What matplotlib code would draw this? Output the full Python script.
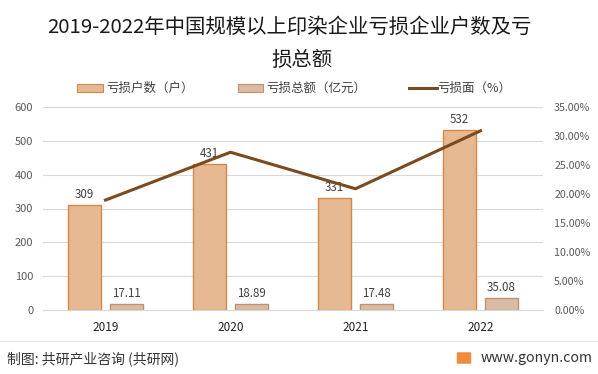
import matplotlib.pyplot as plt
import numpy as np
from matplotlib.patches import Rectangle, FancyBboxPatch
from matplotlib.lines import Line2D

plt.rcParams['font.family'] = ['Noto Sans CJK SC', 'DejaVu Sans']

years = ['2019', '2020', '2021', '2022']
loss_count = [309, 431, 331, 532]
loss_amount = [17.11, 18.89, 17.48, 35.08]
loss_ratio = [18.95, 27.2, 20.9, 30.9]

count_color = '#E6B993'
count_edge = '#D4894A'
amount_color = '#D9BCA6'
amount_edge = '#C4906C'
line_color = '#7B4A1F'
tick_color = '#595959'

fig = plt.figure(figsize=(5.98, 3.74), dpi=100)
ax = fig.add_axes([43 / 598, 64 / 374, 500 / 598, 203 / 374])
ax2 = ax.twinx()

x = np.arange(len(years))
w = 0.265
off = 0.168
ax.bar(x - off, loss_count, w, color=count_color, edgecolor=count_edge, linewidth=1, zorder=2)
ax.bar(x + off, loss_amount, w, color=amount_color, edgecolor=amount_edge, linewidth=1, zorder=2)

for xi, v in zip(x, loss_count):
    ax.text(xi - off, v + 12, str(v), ha='center', va='bottom', fontsize=8.3, color='#404040', zorder=1)
for xi, v in zip(x, loss_amount):
    ax.text(xi + off, v + 12, '%.2f' % v, ha='center', va='bottom', fontsize=8.3, color='#404040', zorder=1)

ax2.plot(x, loss_ratio, color=line_color, linewidth=2.2, zorder=3)

ax.set_xlim(-0.5, 3.5)
ax.set_ylim(0, 600)
ax.set_yticks(range(0, 601, 100))
ax2.set_ylim(0, 35)
ax2.set_yticks(np.arange(0, 36, 5))
ax2.set_yticklabels(['%.2f%%' % t for t in np.arange(0, 36, 5)])

ax.set_xticks(x)
ax.set_xticklabels(years, fontsize=8.5, color='#202020')
ax.tick_params(axis='x', length=0, pad=8)
ax.tick_params(axis='y', length=0, labelsize=8, labelcolor=tick_color, pad=7)
ax2.tick_params(axis='y', length=0, labelsize=7.7, labelcolor=tick_color, pad=8)

ax.grid(axis='y', color='#D9D9D9', linewidth=0.8, zorder=0)
ax.set_axisbelow(True)
for a in (ax, ax2):
    for s in a.spines.values():
        s.set_visible(False)
ax.spines['bottom'].set_visible(True)
ax.spines['bottom'].set_color('#D9D9D9')
ax.patch.set_visible(False)
ax2.patch.set_visible(False)

# title, two lines
fig.text(289 / 598, 1 - 27 / 374, '2019-2022年中国规模以上印染企业亏损企业户数及亏',
         ha='center', va='center', fontsize=14.7, color='#1a1a1a')
fig.text(302 / 598, 1 - 60 / 374, '损总额',
         ha='center', va='center', fontsize=14.7, color='#1a1a1a')

# legend
ly = 1 - 88 / 374
fig.patches.append(Rectangle((77 / 598, ly - 4 / 374), 26 / 598, 8 / 374, transform=fig.transFigure,
                             facecolor=count_color, edgecolor=count_edge, linewidth=0.8))
fig.text(106 / 598, ly, '亏损户数（户）', va='center', fontsize=9, color='#404040')
fig.patches.append(Rectangle((238 / 598, ly - 4 / 374), 25 / 598, 8 / 374, transform=fig.transFigure,
                             facecolor=amount_color, edgecolor=amount_edge, linewidth=0.8))
fig.text(266 / 598, ly, '亏损总额（亿元）', va='center', fontsize=9, color='#404040')
fig.lines.append(Line2D([409 / 598, 437 / 598], [ly, ly], transform=fig.transFigure,
                        color=line_color, linewidth=2.2))
fig.text(437 / 598, ly, '亏损面（%）', va='center', fontsize=9, color='#404040')

# footer
fig.lines.append(Line2D([0, 1], [1 - 341 / 374, 1 - 341 / 374], transform=fig.transFigure,
                        color='#E6E6E6', linewidth=0.8))
fig.text(7 / 598, 1 - 359 / 374, '制图: 共研产业咨询 (共研网)', va='center', fontsize=10, color='#333333')
fig.patches.append(FancyBboxPatch((458 / 598, 1 - 363 / 374), 12 / 598, 10 / 374, transform=fig.transFigure,
                                  boxstyle='round,pad=0.002', facecolor='#F08A3C', edgecolor='none'))
fig.text(481 / 598, 1 - 358 / 374, 'www.gonyn.com', va='center', fontsize=10.2, color='#333333')

fig.savefig('out.png', dpi=100)
